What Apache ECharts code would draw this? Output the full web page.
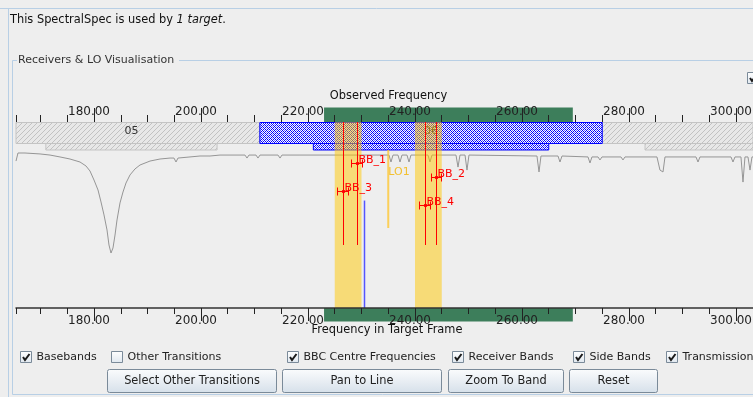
<!DOCTYPE html>
<html>
<head>
<meta charset="utf-8">
<title>Receivers &amp; LO Visualisation</title>
<script src="https://cdn.jsdelivr.net/npm/echarts@6.0.0/dist/echarts.min.js"></script>
<style>
  html, body { margin: 0; padding: 0; background: #eeeeee; overflow: hidden; }
  #chart { width: 753px; height: 397px; }
</style>
</head>
<body>
<div id="chart"></div>
<script>
// ---------- frequency axis (GHz) ----------
const axisMin = 165.42;
const axisMax = 303.18;
const minorTicks = [165.42, 170, 175, 180, 185, 190, 195, 200, 205, 210, 215, 220, 225, 230, 235,
                    240, 245, 250, 255, 260, 265, 270, 275, 280, 285, 290, 295, 300];
const majorTicks = [180, 200, 220, 240, 260, 280, 300];

// ---------- receiver bands (GHz) ----------
const bandNames = ['05', '06', '07'];
const bandLow = [163, 211, 275];
const bandHigh = [211, 275, 373];
const bandCoreLow = [171, 221, 283];
const bandCoreHigh = [203, 265, 365];
const selectedBand = '06';

// ---------- observed frequency coverage (GHz) ----------
const coverageLow = [223.0];
const coverageHigh = [269.5];

// ---------- side bands (GHz) ----------
const sideBandLow = [225, 240];
const sideBandHigh = [230, 245];

// ---------- baseband centre frequencies (GHz) ----------
const bbcNames = ['BB_1', 'BB_2', 'BB_3', 'BB_4'];
const bbcCentre = [229.1, 243.9, 226.5, 241.8];
const bbcHalfWidth = [1.0, 1.0, 1.0, 1.0];

// ---------- local oscillator (GHz) ----------
const loNames = ['LO1'];
const loFreq = [235.0];

// ---------- spectral line of interest ----------
const transitionFreq = [230.538];
const transitionLevel = [0.68];

// ---------- atmospheric transmission [GHz, fraction] ----------
const transmission = [
  [165.42, 0.930], [165.79, 0.981], [167.10, 0.981], [169.91, 0.975], [171.78, 0.968],
  [173.64, 0.956], [175.51, 0.943], [177.38, 0.924], [178.50, 0.899], [179.25, 0.867],
  [180.00, 0.810], [180.75, 0.747], [181.31, 0.671], [181.87, 0.589], [182.43, 0.494],
  [182.80, 0.399], [183.18, 0.348], [183.55, 0.380], [183.93, 0.462], [184.30, 0.557],
  [184.86, 0.665], [185.42, 0.734], [185.98, 0.791], [186.73, 0.842], [187.66, 0.880],
  [188.60, 0.905], [190.47, 0.930], [192.34, 0.943], [194.21, 0.949], [194.95, 0.949],
  [195.33, 0.924], [195.70, 0.949], [197.94, 0.956], [199.81, 0.962], [201.68, 0.962],
  [203.55, 0.968], [208.22, 0.968], [208.60, 0.949], [208.97, 0.968], [210.28, 0.968],
  [210.65, 0.949], [211.03, 0.968], [214.39, 0.968], [214.77, 0.949], [215.14, 0.968],
  [218.50, 0.968], [224.11, 0.968], [229.72, 0.968], [235.14, 0.968], [235.51, 0.924],
  [235.89, 0.968], [236.82, 0.968], [237.20, 0.924], [237.57, 0.968], [238.50, 0.968],
  [238.88, 0.924], [239.25, 0.968], [242.43, 0.968], [242.80, 0.924], [243.18, 0.968],
  [247.66, 0.968], [248.04, 0.892], [248.41, 0.968], [249.35, 0.968], [249.72, 0.873],
  [250.09, 0.968], [262.80, 0.962], [263.18, 0.861], [263.55, 0.962], [266.73, 0.962],
  [267.10, 0.924], [267.48, 0.962], [272.34, 0.956], [272.71, 0.918], [273.08, 0.956],
  [274.21, 0.956], [274.58, 0.937], [274.95, 0.956], [278.50, 0.956], [278.88, 0.937],
  [279.25, 0.956], [285.23, 0.956], [285.79, 0.873], [286.36, 0.861], [286.73, 0.956],
  [292.52, 0.956], [292.90, 0.924], [293.27, 0.956], [299.07, 0.956], [299.44, 0.924],
  [299.81, 0.956], [300.93, 0.956], [301.31, 0.797], [301.68, 0.956], [302.24, 0.956],
  [302.62, 0.873], [302.99, 0.956], [303.18, 0.956]
];

// ---------- controls ----------
const headerPrefix = 'This SpectralSpec is used by ';
const headerItalic = '1 target';
const panelTitle = 'Receivers & LO Visualisation';
const topAxisTitle = 'Observed Frequency';
const bottomAxisTitle = 'Frequency in Target Frame';
const checkboxLabels = ['Basebands', 'Other Transitions', 'BBC Centre Frequencies', 'Receiver Bands', 'Side Bands', 'Transmission'];
const checkboxChecked = [true, false, true, true, true, true];
const buttonLabels = ['Select Other Transitions', 'Pan to Line', 'Zoom To Band', 'Reset'];

// ---------- styling helpers ----------
const FONT = 'DejaVu Sans';
const guiFont = '11px "DejaVu Sans"';
const titleFont = '11.4px "DejaVu Sans"';
const frameBlue = '#b8cfe5';

function tile(size, paint) {
  const c = document.createElement('canvas');
  c.width = size; c.height = size;
  paint(c.getContext('2d'));
  return c;
}
// light grey diagonal hatching for the other receiver bands
const grayHatch = tile(5, g => {
  g.fillStyle = '#e8e8e8'; g.fillRect(0, 0, 5, 5);
  g.fillStyle = '#c2c2c2';
  for (let i = 0; i < 5; i++) g.fillRect(i, 4 - i, 1, 1);
});
// blue cross-hatching for the selected band
const blueHatch = tile(4, g => {
  g.fillStyle = '#ffffff'; g.fillRect(0, 0, 4, 4);
  g.fillStyle = '#0000ff';
  [[0,0],[1,1],[2,2],[3,3],[1,3],[3,1]].forEach(p => g.fillRect(p[0], p[1], 1, 1));
  g.fillStyle = '#7070ff';
  [[2,0],[0,2]].forEach(p => g.fillRect(p[0], p[1], 1, 1));
});

function clipTo(rect, cs, padTop, padBottom) {
  return echarts.graphic.clipRectByRect(rect, {
    x: cs.x, y: cs.y - padTop, width: cs.width, height: cs.height + padTop + padBottom
  });
}

// ---------- series renderers ----------
function renderBand(params, api) {
  const cs = params.coordSys;
  const idx = api.value(4);
  const active = bandNames[idx] === selectedBand;
  const xa = api.coord([api.value(0), 0])[0];
  const xb = api.coord([api.value(1), 0])[0];
  const xc = api.coord([api.value(2), 0])[0];
  const xd = api.coord([api.value(3), 0])[0];
  const style = active
    ? { fill: { image: blueHatch, repeat: 'repeat' }, stroke: '#0000ff', lineWidth: 1 }
    : { fill: { image: grayHatch, repeat: 'repeat' }, stroke: '#c4c4c4', lineWidth: 1 };
  const children = [];
  const upper = clipTo({ x: xa, y: cs.y + 0.5, width: xb - xa, height: 21 }, cs, 1, 1);
  const lower = clipTo({ x: xc, y: cs.y + 21.5, width: xd - xc, height: 6.5 }, cs, 1, 1);
  if (upper) children.push({ type: 'rect', shape: upper, style: style });
  if (lower) children.push({ type: 'rect', shape: lower, style: style });
  const mid = (xa + xb) / 2;
  if (mid > cs.x && mid < cs.x + cs.width) {
    children.push({ type: 'text', x: mid, y: cs.y + 9,
      style: { text: bandNames[idx], fill: '#333333', font: guiFont, align: 'center', verticalAlign: 'middle' } });
  }
  return { type: 'group', children: children };
}

function renderCoverage(above) {
  return function (params, api) {
    const cs = params.coordSys;
    const x0 = api.coord([api.value(0), 0])[0];
    const x1 = api.coord([api.value(1), 0])[0];
    const rect = above
      ? { x: x0, y: cs.y - 14.5, width: x1 - x0, height: 14.5 }
      : { x: x0, y: cs.y + cs.height, width: x1 - x0, height: 13.5 };
    const r = clipTo(rect, cs, 20, 20);
    return r ? { type: 'rect', shape: r, style: { fill: '#3d7e5b' } } : null;
  };
}

function renderSideBand(params, api) {
  const cs = params.coordSys;
  const x0 = api.coord([api.value(0), 0])[0];
  const x1 = api.coord([api.value(1), 0])[0];
  return { type: 'rect', shape: { x: x0, y: cs.y - 28, width: x1 - x0, height: cs.height + 28 },
    style: { fill: 'rgba(255,200,0,0.5)' } };
}

function renderBbc(params, api) {
  const cs = params.coordSys;
  const i = params.dataIndex;
  const c = api.value(0), hw = api.value(1);
  const x = Math.round(api.coord([c, 0])[0]) + 0.5;
  const xl = Math.round(api.coord([c - hw, 0])[0]) + 0.5;
  const xr = Math.round(api.coord([c + hw, 0])[0]) + 0.5;
  const my = cs.y + 13.5 + 14 * i;
  const red = '#ff0000';
  const ln = (x1, y1, x2, y2) => ({ type: 'line', shape: { x1, y1, x2, y2 }, style: { stroke: red, lineWidth: 1 } });
  return { type: 'group', children: [
    ln(x, cs.y - 28, x, cs.y + 95),
    ln(xl, my, xr, my),
    ln(xl, my - 4, xl, my + 4),
    ln(xr, my - 4, xr, my + 4),
    { type: 'circle', shape: { cx: x, cy: my, r: 1.8 }, style: { fill: red } },
    { type: 'text', x: x + 1, y: my + 2, style: { text: bbcNames[i], fill: red, font: guiFont, align: 'left', verticalAlign: 'bottom' } }
  ] };
}

function renderLo(params, api) {
  const cs = params.coordSys;
  const x = api.coord([api.value(0), 0])[0];
  return { type: 'group', children: [
    { type: 'line', shape: { x1: x, y1: cs.y, x2: x, y2: cs.y + 78 }, style: { stroke: 'rgba(255,196,40,0.75)', lineWidth: 2 } },
    { type: 'text', x: x, y: cs.y + 22, style: { text: loNames[params.dataIndex], fill: '#f2c030', font: guiFont, align: 'left', verticalAlign: 'middle' } }
  ] };
}

function renderTransition(params, api) {
  const top = api.coord([api.value(0), api.value(1)]);
  const bottom = api.coord([api.value(0), 0]);
  const x = Math.round(top[0]) + 0.5;
  return { type: 'line', shape: { x1: x, y1: top[1], x2: x, y2: bottom[1] }, style: { stroke: '#5555ff', lineWidth: 1.5 } };
}

// ---------- axes ----------
function freqAxis(gridIndex, position, extra) {
  return Object.assign({
    type: 'value', gridIndex: gridIndex, position: position, min: axisMin, max: axisMax, z: 10, silent: true,
    splitLine: { show: false },
    axisLine: { show: false, onZero: false },
    axisTick: { show: false },
    axisLabel: { show: false }
  }, extra);
}
const tickLine = { color: '#222222', width: 1 };
const labelStyle = {
  show: true, customValues: majorTicks, formatter: v => v.toFixed(2),
  color: '#222222', fontFamily: FONT, fontSize: 12, padding: [0, 10, 0, 0], hideOverlap: false
};

// ---------- GUI frame ----------
const gfx = [];
const hline = (x1, x2, y, color) => gfx.push({ type: 'line', silent: true, shape: { x1, y1: y, x2, y2: y }, style: { stroke: color, lineWidth: 1 } });
const vline = (x, y1, y2, color) => gfx.push({ type: 'line', silent: true, shape: { x1: x, y1, x2: x, y2 }, style: { stroke: color, lineWidth: 1 } });
const grad = (a, b) => new echarts.graphic.LinearGradient(0, 0, 0, 1, [{ offset: 0, color: a }, { offset: 1, color: b }]);

hline(0, 753, 8.5, frameBlue);
vline(8.5, 8.5, 397, frameBlue);
hline(12.5, 17, 60.5, frameBlue);
hline(179, 753, 60.5, frameBlue);
vline(12.5, 60.5, 394.5, frameBlue);
hline(12.5, 753, 394.5, frameBlue);

gfx.push({ type: 'text', silent: true, x: 10, y: 20, style: {
  text: '{n|' + headerPrefix + '}{i|' + headerItalic + '}{n|.}',
  rich: { n: { font: titleFont, fill: '#111111' }, i: { font: 'italic ' + titleFont, fill: '#111111' } },
  verticalAlign: 'middle' } });
gfx.push({ type: 'text', silent: true, x: 18, y: 60, style: { text: panelTitle, font: guiFont, fill: '#333333', verticalAlign: 'middle' } });
gfx.push({ type: 'text', silent: true, x: 388.5, y: 96, style: { text: topAxisTitle, font: titleFont, fill: '#111111', align: 'center', verticalAlign: 'middle' } });
gfx.push({ type: 'text', silent: true, x: 387, y: 330, style: { text: bottomAxisTitle, font: titleFont, fill: '#111111', align: 'center', verticalAlign: 'middle' } });
// the row of controls sits over the lower edge of the axis title
gfx.push({ type: 'rect', silent: true, shape: { x: 290, y: 336.5, width: 200, height: 8 }, style: { fill: '#eeeeee' } });

function checkbox(x, y, checked) {
  const kids = [{ type: 'rect', shape: { x: x + 0.5, y: y + 0.5, width: 11, height: 11 },
    style: { fill: grad('#ffffff', '#dfe7ef'), stroke: '#7a8a99', lineWidth: 1 } }];
  if (checked) {
    kids.push({ type: 'polyline', shape: { points: [[x + 3, y + 6], [x + 5, y + 9], [x + 9.5, y + 3]] },
      style: { stroke: '#1a1a1a', lineWidth: 2, fill: null } });
  }
  return { type: 'group', silent: true, children: kids };
}
gfx.push(checkbox(747, 72, true));

const checkboxX = [20, 111, 287, 452, 573, 666];
checkboxLabels.forEach((label, i) => {
  gfx.push(checkbox(checkboxX[i], 351, checkboxChecked[i]));
  gfx.push({ type: 'text', silent: true, x: checkboxX[i] + 16.5, y: 357,
    style: { text: label, font: guiFont, fill: '#222222', verticalAlign: 'middle' } });
});

const buttonBox = [[107, 169], [282, 159], [448, 115], [569, 88]];
buttonLabels.forEach((label, i) => {
  const b = buttonBox[i];
  gfx.push({ type: 'group', silent: true, children: [
    { type: 'rect', shape: { x: b[0] + 0.5, y: 369.5, width: b[1], height: 23, r: 2 },
      style: { fill: grad('#fbfcfd', '#d6e0ea'), stroke: '#7a8a99', lineWidth: 1 } },
    { type: 'text', x: b[0] + b[1] / 2 + 0.5, y: 381, style: { text: label, font: titleFont, fill: '#222222', align: 'center', verticalAlign: 'middle' } }
  ] });
});

// ---------- chart ----------
const chart = echarts.init(document.getElementById('chart'), null, { renderer: 'canvas' });
chart.setOption({
  animation: false,
  backgroundColor: '#eeeeee',
  grid: [
    { left: 16, top: 122, width: 737, height: 28, containLabel: false, outerBoundsMode: 'none' },
    { left: 16, top: 150, width: 737, height: 158, containLabel: false, outerBoundsMode: 'none' }
  ],
  xAxis: [
    freqAxis(0, 'top', { axisTick: { show: true, customValues: minorTicks, length: 7, lineStyle: tickLine } }),
    freqAxis(0, 'top', { axisTick: { show: true, customValues: majorTicks, length: 14, lineStyle: tickLine },
      axisLabel: Object.assign({ margin: 4.5 }, labelStyle) }),
    freqAxis(1, 'bottom', { axisLine: { show: true, onZero: false, lineStyle: { color: '#333333', width: 1.5 } },
      axisTick: { show: true, customValues: minorTicks, length: 6, lineStyle: tickLine } }),
    freqAxis(1, 'bottom', { axisTick: { show: true, customValues: majorTicks, length: 13, lineStyle: tickLine },
      axisLabel: Object.assign({ margin: 6.5 }, labelStyle) })
  ],
  yAxis: [
    { type: 'value', gridIndex: 0, min: 0, max: 1, show: false },
    { type: 'value', gridIndex: 1, min: 0, max: 1, show: false }
  ],
  graphic: { elements: gfx },
  series: [
    { type: 'custom', name: 'Receiver Bands', xAxisIndex: 0, yAxisIndex: 0, z: 2, silent: true,
      renderItem: renderBand, encode: { x: [0, 1, 2, 3] },
      data: bandNames.map((n, i) => [bandLow[i], bandHigh[i], bandCoreLow[i], bandCoreHigh[i], i])
        .sort((a, b) => (bandNames[a[4]] === selectedBand) - (bandNames[b[4]] === selectedBand)) },
    { type: 'custom', name: 'Observed', xAxisIndex: 0, yAxisIndex: 0, z: 2, silent: true,
      renderItem: renderCoverage(true), encode: { x: [0, 1] },
      data: coverageLow.map((v, i) => [v, coverageHigh[i]]) },
    { type: 'custom', name: 'Target Frame', xAxisIndex: 2, yAxisIndex: 1, z: 2, silent: true,
      renderItem: renderCoverage(false), encode: { x: [0, 1] },
      data: coverageLow.map((v, i) => [v, coverageHigh[i]]) },
    { type: 'line', name: 'Transmission', xAxisIndex: 2, yAxisIndex: 1, z: 3, silent: true,
      showSymbol: false, data: transmission, lineStyle: { color: '#959595', width: 1 } },
    { type: 'custom', name: 'Side Bands', xAxisIndex: 2, yAxisIndex: 1, z: 4, silent: true,
      renderItem: renderSideBand, encode: { x: [0, 1] },
      data: sideBandLow.map((v, i) => [v, sideBandHigh[i]]) },
    { type: 'custom', name: 'Transition', xAxisIndex: 2, yAxisIndex: 1, z: 5, silent: true,
      renderItem: renderTransition, encode: { x: 0, y: 1 },
      data: transitionFreq.map((v, i) => [v, transitionLevel[i]]) },
    { type: 'custom', name: 'LO', xAxisIndex: 2, yAxisIndex: 1, z: 5, silent: true,
      renderItem: renderLo, encode: { x: 0 },
      data: loFreq.map(v => [v]) },
    { type: 'custom', name: 'BBC Centre Frequencies', xAxisIndex: 2, yAxisIndex: 1, z: 6, silent: true,
      renderItem: renderBbc, encode: { x: 0 },
      data: bbcCentre.map((v, i) => [v, bbcHalfWidth[i]]) }
  ]
});
</script>
</body>
</html>
